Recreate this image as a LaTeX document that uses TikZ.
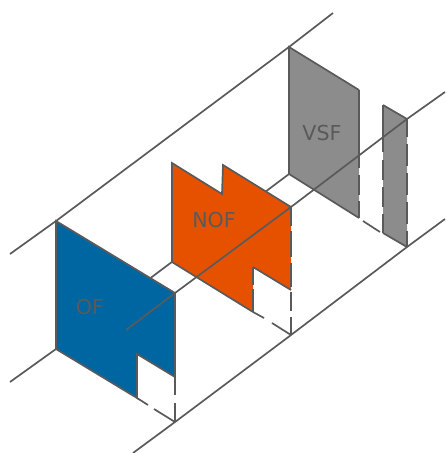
\documentclass[tikz,border=0pt]{standalone}
\usepackage{fontspec}
\setmainfont{DejaVu Sans}
\definecolor{ofblue}{HTML}{0066A2}
\definecolor{noforange}{HTML}{E65100}
\definecolor{vsfgray}{HTML}{8C8C8C}
\definecolor{edgegray}{HTML}{5A5A5A}
\tikzset{
  edge/.style={draw=edgegray, line width=1.7pt},
  panellabel/.style={text=edgegray, font=\fontsize{20.6}{24}\selectfont},
}

\begin{document}
\begin{tikzpicture}[x=1pt,y=-1pt]
  \useasboundingbox (0,0) rectangle (445,453);

  % Corners shared by the panels and the long lines
  \coordinate (backTop) at (56,221);
  \coordinate (backBottom) at (56,349);
  \coordinate (ofRight) at (175,293);
  \coordinate (ofFoot) at (175,422);
  \coordinate (nofRight) at (291,207);
  \coordinate (nofFoot) at (291,335);
  \coordinate (vsfTop) at (289,47);
  \coordinate (vsfBottom) at (289,174);
  \coordinate (stripRight) at (407,119);
  \coordinate (stripFoot) at (407,247);

  % Long lines behind the panels
  \draw[edge] (10,254) -- (backTop) -- (vsfTop) -- (333,13);
  \draw[edge] (10,382) -- (backBottom) -- (vsfBottom);
  \draw[edge] (133,453) -- (ofFoot) -- (nofFoot) -- (stripFoot) -- (445,219);

  % OF panel
  \fill[ofblue] (backTop) -- (ofRight) -- (175,377) -- (137,354) -- (137,398) -- (backBottom) -- cycle;
  \draw[edge] (175,377) -- (137,354) -- (137,398) -- (backBottom) -- (backTop) -- (ofRight);
  \draw[edge, dash pattern=on 102pt off 8pt on 19pt off 8pt] (ofRight) -- (ofFoot);
  \draw[edge] (137,398) -- (148,405);
  \draw[edge] (154,409) -- (ofFoot);

  % NOF panel
  \fill[noforange] (172,163) -- (222,194) -- (223,165) -- (nofRight) -- (291,290) -- (253,267) -- (253,312) -- (172,262) -- cycle;
  \draw[edge] (291,290) -- (253,267);
  \draw[edge] (253,312) -- (172,262) -- (172,163) -- (222,194) -- (223,165) -- (nofRight);
  \draw[edge, dash pattern=on 18pt off 4pt on 30pt off 5pt] (253,267) -- (253,312);
  \draw[edge, dash pattern=on 19pt off 5pt on 26pt off 6pt on 24pt off 5pt on 19pt off 6pt on 30pt off 7pt] (nofRight) -- (nofFoot);
  \draw[edge] (253,312) -- (264,318);
  \draw[edge] (272,323) -- (nofFoot);

  % VSF panel and its strip
  \fill[vsfgray] (vsfTop) -- (359,90) -- (359,218) -- (vsfBottom) -- cycle;
  \draw[edge] (359,218) -- (vsfBottom) -- (vsfTop) -- (359,90);
  \draw[edge, dash pattern=on 78pt off 7pt on 20pt off 6pt on 30pt off 8pt] (359,90) -- (359,218);
  \draw[edge] (363,221) -- (380,232);
  \fill[vsfgray] (383,105) -- (stripRight) -- (stripFoot) -- (383,233) -- cycle;
  \draw[edge] (383,233) -- (stripFoot);
  \draw[edge] (383,105) -- (stripRight);
  \draw[edge, dash pattern=on 47pt off 8pt on 20pt off 7pt on 20pt off 7pt on 30pt off 8pt] (383,105) -- (383,233);
  \draw[edge, dash pattern=on 22pt off 7pt, dash phase=4pt] (stripRight) -- (stripFoot);

  % Front line runs over everything
  \coordinate (frontEnd) at (126,330);
  \draw[edge] (frontEnd) -- (ofRight) -- (nofRight) -- (stripRight) -- (445,92);

  % Labels
  \node[panellabel] (ofLabel) at (90,307) {OF};
  \node[panellabel] (nofLabel) at (214,220) {NOF};
  \node[panellabel] (vsfLabel) at (322,133) {VSF};
\end{tikzpicture}
\end{document}
